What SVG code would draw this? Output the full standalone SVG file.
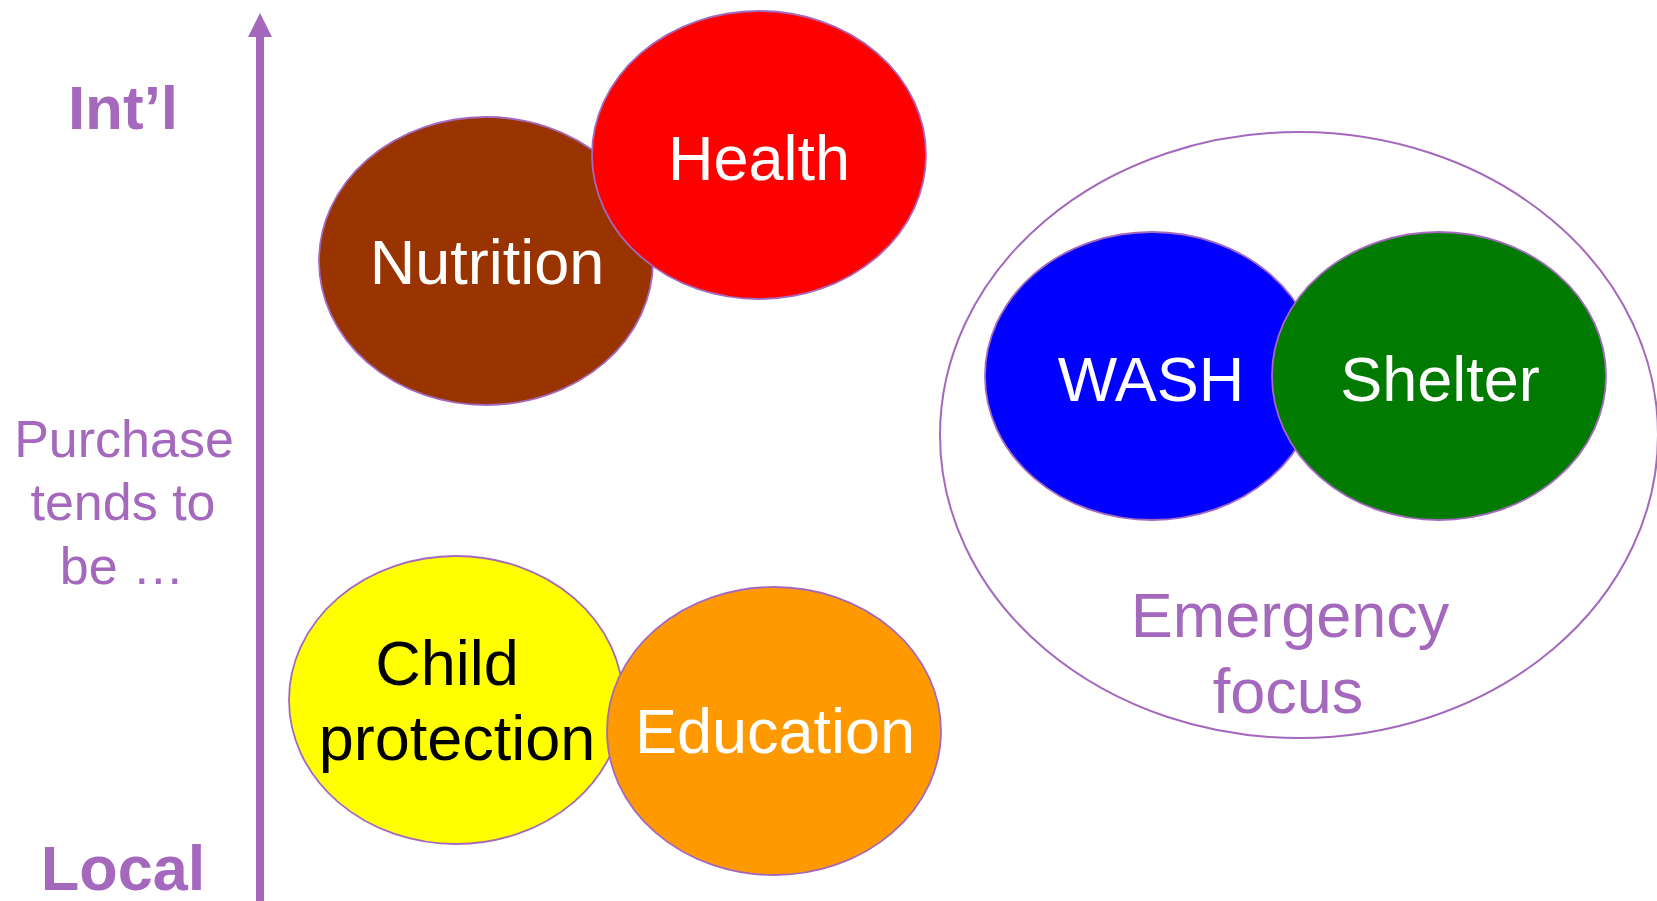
<svg xmlns="http://www.w3.org/2000/svg" width="1657" height="901" viewBox="0 0 1657 901">
<defs>
<marker id="ah" markerWidth="3" markerHeight="3" refX="0" refY="1.5" orient="auto" markerUnits="strokeWidth"><path d="M0,0 L3,1.5 L0,3 Z" fill="#A469BD"/></marker>
<style>
.bub{stroke:#A469BD;stroke-width:1.8}
.t{font-family:"Liberation Sans",Arial,sans-serif;text-anchor:middle;font-size:62px}
.w{fill:#FFFFFF}
.p{fill:#A469BD}
.b{font-weight:bold}
</style>
</defs>
<rect width="1657" height="901" fill="#FFFFFF"/>
<g id="connectors">
<line x1="260" y1="901" x2="260" y2="37" stroke="#A469BD" stroke-width="8" marker-end="url(#ah)"/>
</g>
<g id="axis-labels">
<text class="t p b" x="123" y="129">Int’l</text>
<text class="t p b" style="font-size:63px" x="123" y="890">Local</text>
<text class="t p" style="font-size:52px" x="124" y="457">Purchase</text>
<text class="t p" style="font-size:52px" x="123" y="520">tends to</text>
<text class="t p" style="font-size:52px" x="122" y="584">be …</text>
</g>
<g id="emergency">
<ellipse cx="1299" cy="435" rx="359" ry="303" fill="#FFFFFF" stroke="#A469BD" stroke-width="2"/>
<text class="t p" style="font-size:63px" x="1290" y="637">Emergency</text>
<text class="t p" style="font-size:63px" x="1288" y="713">focus</text>
</g>
<g id="nutrition">
<ellipse class="bub" cx="486" cy="261" rx="167" ry="144" fill="#993300"/>
<text class="t w" style="font-size:63px" x="487" y="284">Nutrition</text>
</g>
<g id="health">
<ellipse class="bub" cx="759" cy="155" rx="167" ry="144" fill="#FF0000"/>
<text class="t w" style="font-size:63px" x="759" y="180">Health</text>
</g>
<g id="child-protection">
<ellipse class="bub" cx="456" cy="700" rx="167" ry="144" fill="#FFFF00"/>
<text class="t" fill="#000000" style="font-size:63px" x="447" y="685">Child</text>
<text class="t" fill="#000000" style="font-size:63px" x="457" y="760">protection</text>
</g>
<g id="education">
<ellipse class="bub" cx="774" cy="731" rx="167" ry="144" fill="#FF9900"/>
<text class="t w" style="font-size:63px" x="775" y="753">Education</text>
</g>
<g id="wash">
<ellipse class="bub" cx="1152" cy="376" rx="167" ry="144" fill="#0000FF"/>
<text class="t w" style="font-size:63px" x="1151" y="401">WASH</text>
</g>
<g id="shelter">
<ellipse class="bub" cx="1439" cy="376" rx="167" ry="144" fill="#007A00"/>
<text class="t w" style="font-size:63px" x="1440" y="401">Shelter</text>
</g>
</svg>
